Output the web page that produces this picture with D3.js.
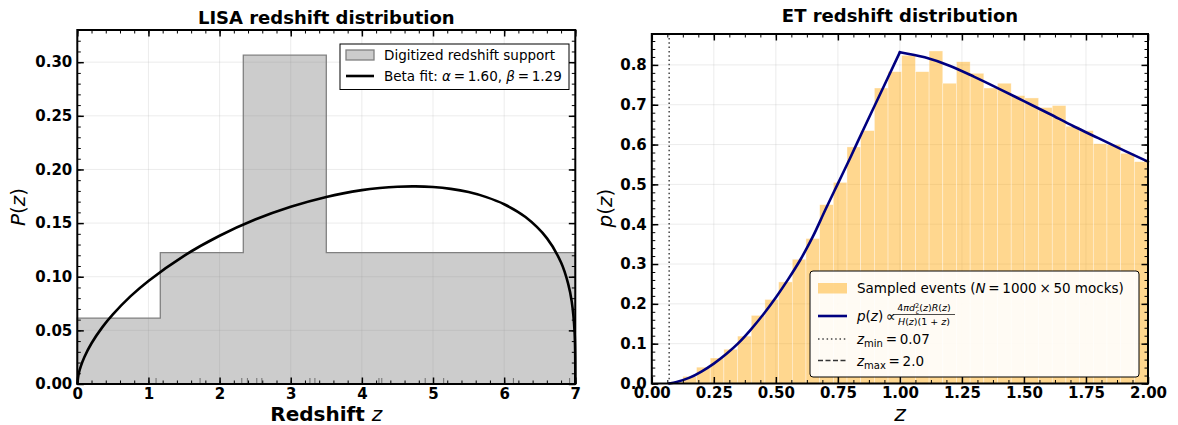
<!DOCTYPE html>
<html>
<head>
<meta charset="utf-8">
<script src="https://cdn.jsdelivr.net/npm/d3@7"></script>
<style>
  body { margin: 0; background: #fff; }
  svg { display: block; font-family: "DejaVu Sans", sans-serif; }
</style>
</head>
<body>
<svg id="chart" width="1178" height="425"></svg>
<script>
// ---- LISA panel data ----
const lisaEdges = [0, 1.1667, 2.3333, 3.5, 7.0];
const lisaDensity = [0.0615, 0.1225, 0.3065, 0.1225];
const betaZ = [0, 0.02, 0.05, 0.1, 0.2, 0.35, 0.5, 0.75, 1.0, 1.5, 2.0, 2.5, 3.0, 3.5, 4.0, 4.25,
               4.5, 4.75, 5.0, 5.25, 5.5, 5.75, 6.0, 6.3, 6.6, 6.8, 6.9, 6.95, 6.99, 7.0];
const betaP = [0, 0.0096, 0.0166, 0.0252, 0.0380, 0.0528, 0.0649, 0.0819, 0.0961, 0.1195, 0.1382,
               0.1533, 0.1652, 0.1744, 0.1807, 0.1827, 0.1839, 0.1842, 0.1836, 0.1819, 0.1789,
               0.1742, 0.1676, 0.1556, 0.1360, 0.1132, 0.0934, 0.0768, 0.0483, 0.0];
const lisaRug = [1.107, 1.726, 2.312, 2.391, 2.523, 2.594, 3.27, 3.34, 4.24, 4.28, 4.89, 5.15, 6.13, 6.92];
const lisaXTicks = [0, 1, 2, 3, 4, 5, 6, 7];
const lisaYTicks = [0, 0.05, 0.10, 0.15, 0.20, 0.25, 0.30];

// ---- ET panel data ----
const etZmin = 0.07, etZmax = 2.0;
const etDensity = [0.004, 0.018, 0.041, 0.064, 0.086, 0.119, 0.171, 0.211, 0.255, 0.312,
                   0.364, 0.449, 0.505, 0.594, 0.635, 0.742, 0.783, 0.824, 0.783, 0.835,
                   0.754, 0.808, 0.779, 0.742, 0.754, 0.723, 0.717, 0.693, 0.698, 0.646,
                   0.635, 0.602, 0.600, 0.578, 0.557];
const etCurveZ = [0.07, 0.10, 0.15, 0.20, 0.25, 0.30, 0.35, 0.40, 0.45, 0.50, 0.55, 0.60, 0.65,
                  0.70, 0.75, 0.80, 0.85, 0.90, 0.95, 1.00, 1.10, 1.20, 1.30, 1.40, 1.50, 1.60,
                  1.70, 1.80, 1.90, 2.00];
const etCurveP = [0.000, 0.004, 0.014, 0.030, 0.050, 0.074, 0.102, 0.136, 0.174, 0.216, 0.262,
                  0.312, 0.370, 0.437, 0.502, 0.567, 0.634, 0.700, 0.766, 0.832, 0.819, 0.798,
                  0.770, 0.740, 0.709, 0.678, 0.646, 0.616, 0.586, 0.557];
const etXTicks = [0, 0.25, 0.5, 0.75, 1.0, 1.25, 1.5, 1.75, 2.0];
const etYTicks = [0, 0.1, 0.2, 0.3, 0.4, 0.5, 0.6, 0.7, 0.8];

const svg = d3.select("#chart");
const TS = "\u2009"; // thin space, mathtext-like spacing around "="

// inward ticks on all four sides, tick labels, frame
function drawFrame(g, x, y, xMajor, xMinor, yMajor, yMinor, xFmt, yFmt) {
  const [x0, x1] = x.range();
  const [y0, y1] = y.range();

  const addAxis = (gen, tr, major) => {
    const a = g.append("g").attr("transform", tr).call(gen);
    a.select(".domain").remove();
    a.selectAll("line").attr("stroke", "#000").attr("stroke-width", major ? 1.5 : 1);
    a.selectAll("text").attr("fill", "#000").attr("font-size", 15)
      .attr("font-weight", "bold").attr("font-family", "DejaVu Sans");
    a.attr("font-family", null).attr("font-size", null);
    return a;
  };

  addAxis(d3.axisBottom(x).tickValues(xMinor).tickSize(-3.5).tickFormat(""), `translate(0,${y0})`, false);
  addAxis(d3.axisTop(x).tickValues(xMinor).tickSize(-3.5).tickFormat(""), `translate(0,${y1})`, false);
  addAxis(d3.axisLeft(y).tickValues(yMinor).tickSize(-3.5).tickFormat(""), `translate(${x0},0)`, false);
  addAxis(d3.axisRight(y).tickValues(yMinor).tickSize(-3.5).tickFormat(""), `translate(${x1},0)`, false);

  addAxis(d3.axisBottom(x).tickValues(xMajor).tickSizeInner(-6.5).tickSizeOuter(0)
    .tickPadding(4).tickFormat(xFmt), `translate(0,${y0})`, true);
  addAxis(d3.axisTop(x).tickValues(xMajor).tickSize(-6.5).tickFormat(""), `translate(0,${y1})`, true);
  addAxis(d3.axisLeft(y).tickValues(yMajor).tickSizeInner(-6.5).tickSizeOuter(0)
    .tickPadding(5).tickFormat(yFmt), `translate(${x0},0)`, true);
  addAxis(d3.axisRight(y).tickValues(yMajor).tickSize(-6.5).tickFormat(""), `translate(${x1},0)`, true);

  g.append("rect")
    .attr("x", x0).attr("y", y1)
    .attr("width", x1 - x0).attr("height", y0 - y1)
    .attr("fill", "none").attr("stroke", "#000").attr("stroke-width", 2);
}

function drawGrid(g, x, y, xMajor, yMajor) {
  const [x0, x1] = x.range();
  const [y0, y1] = y.range();
  const grid = g.append("g").attr("stroke", "#b0b0b0").attr("stroke-opacity", 0.3).attr("stroke-width", 0.8);
  grid.selectAll(".gx").data(xMajor).join("line")
    .attr("x1", d => x(d)).attr("x2", d => x(d)).attr("y1", y0).attr("y2", y1);
  grid.selectAll(".gy").data(yMajor).join("line")
    .attr("x1", x0).attr("x2", x1).attr("y1", d => y(d)).attr("y2", d => y(d));
}

// ================= LEFT: LISA =================
{
  const x = d3.scaleLinear().domain([0, 7]).range([77.3, 575.3]);
  const y = d3.scaleLinear().domain([0, 0.33]).range([384, 30]);
  const g = svg.append("g");

  drawGrid(g, x, y, lisaXTicks, lisaYTicks);

  // step histogram (filled)
  const steps = [];
  lisaDensity.forEach((v, i) => { steps.push([lisaEdges[i], v]); steps.push([lisaEdges[i + 1], v]); });
  const area = d3.area().x(d => x(d[0])).y0(y(0)).y1(d => y(d[1]));
  g.append("path").datum(steps).attr("d", area)
    .attr("fill", "gray").attr("fill-opacity", 0.4);
  const stepLine = [[0, 0], ...steps, [7, 0]];
  g.append("path").datum(stepLine)
    .attr("d", d3.line().x(d => x(d[0])).y(d => y(d[1])))
    .attr("fill", "none").attr("stroke", "#808080").attr("stroke-width", 1.3);

  // beta fit
  g.append("path").datum(betaZ.map((z, i) => [z, betaP[i]]))
    .attr("d", d3.line().x(d => x(d[0])).y(d => y(d[1])).curve(d3.curveCatmullRom.alpha(0.5)))
    .attr("fill", "none").attr("stroke", "#000").attr("stroke-width", 2.6);

  g.append("g").selectAll("line").data(lisaRug).join("line")
    .attr("x1", d => x(d)).attr("x2", d => x(d))
    .attr("y1", y(0)).attr("y2", y(0) - 6)
    .attr("stroke", "#6e6e6e").attr("stroke-width", 1);

  drawFrame(g, x, y, lisaXTicks, d3.range(0, 7.001, 0.2), lisaYTicks, d3.range(0, 0.3301, 0.01),
    d3.format("d"), d3.format(".2f"));

  // title and labels
  g.append("text").attr("x", 326.3).attr("y", 24).attr("text-anchor", "middle")
    .attr("font-size", 18).attr("font-weight", "bold").text("LISA redshift distribution");
  const xl = g.append("text").attr("x", 326.3).attr("y", 421).attr("text-anchor", "middle").attr("font-size", 20);
  xl.append("tspan").attr("font-weight", "bold").text("Redshift ");
  xl.append("tspan").attr("font-style", "italic").text("z");
  const yl = g.append("text").attr("transform", "translate(25,207) rotate(-90)")
    .attr("text-anchor", "middle").attr("font-size", 20);
  yl.append("tspan").attr("font-style", "italic").text("P");
  yl.append("tspan").text("(");
  yl.append("tspan").attr("font-style", "italic").text("z");
  yl.append("tspan").text(")");

  // legend
  const lg = g.append("g");
  lg.append("rect").attr("x", 340).attr("y", 44).attr("width", 229).attr("height", 45.5)
    .attr("fill", "#fff").attr("stroke", "#000").attr("stroke-width", 1);
  lg.append("rect").attr("x", 346).attr("y", 50).attr("width", 28).attr("height", 10)
    .attr("fill", "gray").attr("fill-opacity", 0.4).attr("stroke", "#808080").attr("stroke-width", 1.3);
  lg.append("text").attr("x", 384).attr("y", 60).attr("font-size", 13.5).text("Digitized redshift support");
  lg.append("line").attr("x1", 346).attr("x2", 374).attr("y1", 76).attr("y2", 76)
    .attr("stroke", "#000").attr("stroke-width", 2.6);
  const bt = lg.append("text").attr("x", 384).attr("y", 81).attr("font-size", 13.5);
  bt.append("tspan").text("Beta fit: ");
  bt.append("tspan").attr("font-style", "italic").text("α");
  bt.append("tspan").text(`${TS}=${TS}1.60, `);
  bt.append("tspan").attr("font-style", "italic").text("β");
  bt.append("tspan").text(`${TS}=${TS}1.29`);
}

// ================= RIGHT: ET =================
{
  const x = d3.scaleLinear().domain([0, 2]).range([651.8, 1148]);
  const y = d3.scaleLinear().domain([0, 0.8776]).range([383.5, 34]);
  const g = svg.append("g");

  drawGrid(g, x, y, etXTicks, etYTicks);

  const nb = etDensity.length;
  const bw = (etZmax - etZmin) / nb;
  const bins = etDensity.map((v, i) => ({ a: etZmin + i * bw, b: etZmin + (i + 1) * bw, v }));
  g.append("g").selectAll("rect").data(bins).join("rect")
    .attr("x", d => x(d.a)).attr("width", d => x(d.b) - x(d.a))
    .attr("y", d => y(d.v)).attr("height", d => y(0) - y(d.v))
    .attr("fill", "orange").attr("fill-opacity", 0.44)
    .attr("stroke", "#fff").attr("stroke-opacity", 0.6).attr("stroke-width", 0.6);

  // reference lines
  g.append("line").attr("x1", x(etZmin)).attr("x2", x(etZmin)).attr("y1", y(0)).attr("y2", y.range()[1])
    .attr("stroke", "#444").attr("stroke-width", 1.5).attr("stroke-dasharray", "1.5,2.8");
  g.append("line").attr("x1", x(etZmax)).attr("x2", x(etZmax)).attr("y1", y(0)).attr("y2", y.range()[1])
    .attr("stroke", "#333").attr("stroke-width", 1.5).attr("stroke-dasharray", "5,2.5");

  // model curve, split at the kink z = 1
  const pts = etCurveZ.map((z, i) => [z, etCurveP[i]]);
  const ln = d3.line().x(d => x(d[0])).y(d => y(d[1])).curve(d3.curveMonotoneX);
  [pts.filter(d => d[0] <= 1), pts.filter(d => d[0] >= 1)].forEach(seg => {
    g.append("path").datum(seg).attr("d", ln)
      .attr("fill", "none").attr("stroke", "#000080").attr("stroke-width", 2.6)
      .attr("stroke-linecap", "round");
  });

  drawFrame(g, x, y, etXTicks, d3.range(0, 2.0001, 0.0625), etYTicks, d3.range(0, 0.8776, 0.02),
    d3.format(".2f"), d3.format(".1f"));

  g.append("text").attr("x", 900).attr("y", 21.5).attr("text-anchor", "middle")
    .attr("font-size", 18).attr("font-weight", "bold").text("ET redshift distribution");
  g.append("text").attr("x", 900).attr("y", 420.5).attr("text-anchor", "middle")
    .attr("font-size", 22).attr("font-style", "italic").text("z");
  const yl = g.append("text").attr("transform", "translate(612,208) rotate(-90)")
    .attr("text-anchor", "middle").attr("font-size", 20);
  yl.append("tspan").attr("font-style", "italic").text("p");
  yl.append("tspan").text("(");
  yl.append("tspan").attr("font-style", "italic").text("z");
  yl.append("tspan").text(")");

  // legend
  const lg = g.append("g");
  lg.append("rect").attr("x", 810).attr("y", 271).attr("width", 329).attr("height", 106).attr("rx", 3)
    .attr("fill", "#fff").attr("fill-opacity", 0.9).attr("stroke", "#000").attr("stroke-width", 1);
  lg.append("rect").attr("x", 818).attr("y", 283).attr("width", 29).attr("height", 10.5)
    .attr("fill", "orange").attr("fill-opacity", 0.44);
  const t1 = lg.append("text").attr("x", 857).attr("y", 293).attr("font-size", 13.5);
  t1.append("tspan").text("Sampled events (");
  t1.append("tspan").attr("font-style", "italic").text("N");
  t1.append("tspan").text(`${TS}=${TS}1000${TS}×${TS}50 mocks)`);

  lg.append("line").attr("x1", 818).attr("x2", 847).attr("y1", 316).attr("y2", 316)
    .attr("stroke", "#000080").attr("stroke-width", 2.6);
  const t2 = lg.append("text").attr("x", 857).attr("y", 321).attr("font-size", 13.5);
  t2.append("tspan").attr("font-style", "italic").text("p");
  t2.append("tspan").text("(");
  t2.append("tspan").attr("font-style", "italic").text("z");
  t2.append("tspan").text(")" + TS + "∝");
  const num = lg.append("text").attr("x", 924).attr("y", 311).attr("font-size", 9.5).attr("text-anchor", "middle");
  num.append("tspan").text("4");
  num.append("tspan").attr("font-style", "italic").text("πd");
  num.append("tspan").attr("font-size", 6.5).attr("dy", -3.5).text("2");
  num.append("tspan").attr("font-size", 6.5).attr("dx", -3.6).attr("dy", 6.5).attr("font-style", "italic").text("c");
  num.append("tspan").attr("dy", -3).text("(");
  num.append("tspan").attr("font-style", "italic").text("z");
  num.append("tspan").text(")");
  num.append("tspan").attr("font-style", "italic").text("R");
  num.append("tspan").text("(");
  num.append("tspan").attr("font-style", "italic").text("z");
  num.append("tspan").text(")");
  lg.append("line").attr("x1", 893).attr("x2", 955).attr("y1", 314.5).attr("y2", 314.5)
    .attr("stroke", "#000").attr("stroke-width", 0.7);
  const den = lg.append("text").attr("x", 924).attr("y", 324.5).attr("font-size", 9.5).attr("text-anchor", "middle");
  den.append("tspan").attr("font-style", "italic").text("H");
  den.append("tspan").text("(");
  den.append("tspan").attr("font-style", "italic").text("z");
  den.append("tspan").text(")(1 + ");
  den.append("tspan").attr("font-style", "italic").text("z");
  den.append("tspan").text(")");

  lg.append("line").attr("x1", 818).attr("x2", 847).attr("y1", 339).attr("y2", 339)
    .attr("stroke", "#444").attr("stroke-width", 1.5).attr("stroke-dasharray", "1.5,2.8");
  const t3 = lg.append("text").attr("x", 857).attr("y", 344).attr("font-size", 13.5);
  t3.append("tspan").attr("font-style", "italic").text("z");
  t3.append("tspan").attr("font-size", 10).attr("dy", 3).text("min");
  t3.append("tspan").attr("dy", -3).text(`${TS}=${TS}0.07`);

  lg.append("line").attr("x1", 818).attr("x2", 847).attr("y1", 360.5).attr("y2", 360.5)
    .attr("stroke", "#333").attr("stroke-width", 1.5).attr("stroke-dasharray", "5,2.5");
  const t4 = lg.append("text").attr("x", 857).attr("y", 365.5).attr("font-size", 13.5);
  t4.append("tspan").attr("font-style", "italic").text("z");
  t4.append("tspan").attr("font-size", 10).attr("dy", 3).text("max");
  t4.append("tspan").attr("dy", -3).text(`${TS}=${TS}2.0`);
}
</script>
</body>
</html>
